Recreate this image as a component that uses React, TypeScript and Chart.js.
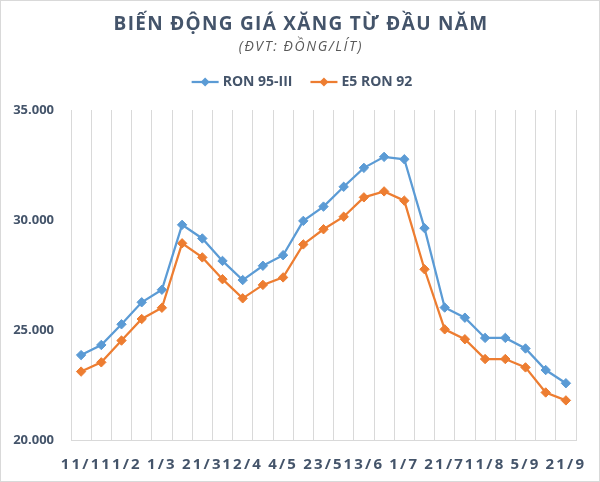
import React, { useEffect, useRef } from "react";
import { Chart, registerables } from "chart.js";
Chart.register(...registerables);

const dates = ["11/1","21/1","11/2","21/2","1/3","11/3","21/3","1/4","12/4","25/4","4/5","11/5","23/5","1/6","13/6","21/6","1/7","11/7","21/7","1/8","11/8","22/8","5/9","12/9","21/9"];
const ron95 = [23860,24320,25260,26260,26830,29780,29160,28140,27270,27920,28400,29960,30610,31510,32370,32870,32760,29630,26020,25560,24640,24640,24160,23180,22580];
const e5ron92 = [23110,23530,24520,25500,26010,28940,28300,27310,26440,27050,27390,28890,29580,30150,31030,31300,30880,27760,25030,24580,23680,23680,23300,22160,21800];
const seriesNames = ["RON 95-III", "E5 RON 92"];
const colors = ["#5B9BD5", "#ED7D31"];
const titleText = "BIẾN ĐỘNG GIÁ XĂNG TỪ ĐẦU NĂM";
const subtitleText = "(ĐVT: ĐỒNG/LÍT)";

const TEXT = "#44546A";
const FONT = "'Open Sans', 'Liberation Sans', sans-serif";

const decor = {
  id: "decor",
  beforeDraw(chart: any) {
    const ctx = chart.ctx;
    ctx.save();
    ctx.fillStyle = "#ffffff";
    ctx.fillRect(0, 0, chart.width, chart.height);
    ctx.strokeStyle = "#d9d9d9";
    ctx.lineWidth = 1;
    ctx.strokeRect(0.5, 0.5, chart.width - 1, chart.height - 1);
    ctx.restore();
  },
  afterLayout(chart: any) {
    const s = chart.scales.x;
    if (s && !s.__wrapped) {
      const orig = s.drawLabels.bind(s);
      s.drawLabels = (area: any) => {
        const ctx = chart.ctx;
        ctx.save();
        (ctx as any).letterSpacing = "2.2px";
        orig(area);
        ctx.restore();
      };
      s.__wrapped = true;
    }
  },
  afterDraw(chart: any) {
    const ctx = chart.ctx;
    const cx = chart.width / 2;
    ctx.save();
    ctx.textAlign = "center";
    ctx.textBaseline = "middle";
    ctx.fillStyle = TEXT;
    ctx.font = `bold 19px ${FONT}`;
    (ctx as any).letterSpacing = "1.3px";
    ctx.fillText(titleText, cx + 1, 25);
    ctx.font = `italic 14px ${FONT}`;
    (ctx as any).letterSpacing = "1.6px";
    ctx.fillStyle = "#595959";
    ctx.fillText(subtitleText, cx + 1, 47);
    (ctx as any).letterSpacing = "0px";

    // legend
    ctx.font = `bold 14px ${FONT}`;
    const lineW = 27, gapText = 4, itemGap = 18;
    const widths = seriesNames.map((n) => lineW + gapText + ctx.measureText(n).width);
    const total = widths.reduce((a, b) => a + b, 0) + itemGap * (seriesNames.length - 1);
    let x = cx + 2 - total / 2;
    const y = 82;
    seriesNames.forEach((n, i) => {
      const c = chart.data.datasets[i].borderColor;
      ctx.strokeStyle = c;
      ctx.lineWidth = 2.25;
      ctx.beginPath();
      ctx.moveTo(x, y);
      ctx.lineTo(x + lineW, y);
      ctx.stroke();
      ctx.fillStyle = c;
      ctx.beginPath();
      const mx = x + lineW / 2, r = 4.5;
      ctx.moveTo(mx, y - r);
      ctx.lineTo(mx + r, y);
      ctx.lineTo(mx, y + r);
      ctx.lineTo(mx - r, y);
      ctx.closePath();
      ctx.fill();
      ctx.fillStyle = TEXT;
      ctx.textAlign = "left";
      ctx.fillText(n, x + lineW + gapText, y);
      x += widths[i] + itemGap;
    });
    ctx.restore();
  },
};

export default function App() {
  const ref = useRef<HTMLCanvasElement | null>(null);
  useEffect(() => {
    document.body.style.margin = "0";
    if (!ref.current) return;
    const mk = (data: number[], i: number) => ({
      label: seriesNames[i],
      data,
      borderColor: colors[i],
      backgroundColor: colors[i],
      pointBackgroundColor: colors[i],
      pointBorderColor: colors[i],
      pointStyle: "rectRot",
      pointRadius: 4.7,
      pointBorderWidth: 1,
      borderWidth: 2.25,
      tension: 0,
      fill: false,
    });
    const chart = new Chart(ref.current, {
      type: "line",
      data: {
        labels: dates,
        datasets: [mk(ron95, 0), mk(e5ron92, 1)],
      },
      options: {
        responsive: false,
        animation: false,
        events: [],
        layout: { padding: { top: 110, right: 24, bottom: 0, left: 0 } },
        plugins: {
          legend: { display: false },
          title: { display: false },
          tooltip: { enabled: false },
        },
        scales: {
          x: {
            offset: true,
            grid: { display: true, offset: true, color: "#d9d9d9", lineWidth: 1, drawTicks: false },
            border: { display: true, color: "#d9d9d9", width: 1 },
            afterFit: (s: any) => { s.height = 42; },
            ticks: {
              autoSkip: false,
              maxRotation: 0,
              minRotation: 0,
              padding: 16,
              color: TEXT,
              font: { family: FONT, size: 15, weight: "bold" },
              callback: (_v: any, idx: number) => (idx % 2 === 0 ? dates[idx] : ""),
            },
          },
          y: {
            min: 20000,
            max: 35000,
            grid: { display: false, drawTicks: false },
            border: { display: false },
            afterFit: (s: any) => { s.width = 71; },
            ticks: {
              stepSize: 5000,
              padding: 17,
              color: TEXT,
              font: { family: FONT, size: 13, weight: "bold" },
              callback: (v: any) => Number(v).toLocaleString("de-DE"),
            },
          },
        },
      },
      plugins: [decor],
    } as any);
    return () => chart.destroy();
  }, []);
  return (
    <div style={{ width: 600, height: 482 }}>
      <canvas ref={ref} width={600} height={482} style={{ display: "block" }} />
    </div>
  );
}
